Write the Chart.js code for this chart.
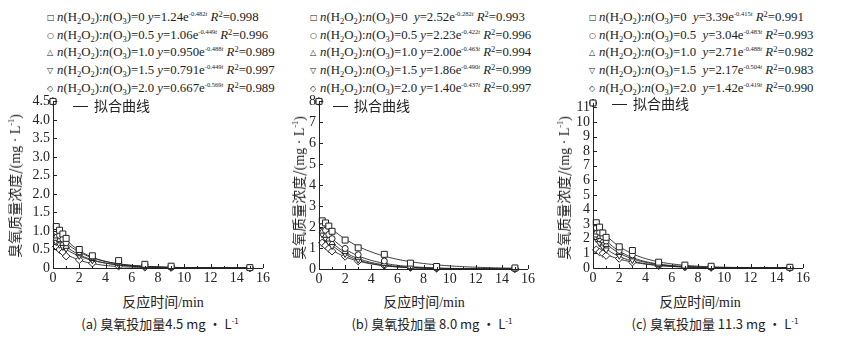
<!DOCTYPE html>
<html>
<head>
<meta charset="utf-8">
<script src="https://cdn.jsdelivr.net/npm/chart.js@4.4.1/dist/chart.umd.min.js"></script>
<style>
  body { margin: 0; width: 842px; height: 344px; background: #fff; position: relative; overflow: hidden; color: #222; }
  .box { position: absolute; }
  .legend { position: absolute; font-family: "Liberation Serif", "Times New Roman", serif; font-size: 12.8px; line-height: 16.7px; white-space: nowrap; }
  .legend .mk { display: inline-block; width: 10px; font-family: "DejaVu Sans", sans-serif; font-size: 8px; vertical-align: 1px; }
  .legend sub { font-size: 8.5px; vertical-align: -3px; line-height: 0; }
  .legend sup { font-size: 6.5px; vertical-align: 5px; line-height: 0; }
  .legend sup.r { font-size: 8.5px; vertical-align: 4px; }
  .fitkey { position: absolute; font-family: "Noto Sans CJK SC", sans-serif; font-size: 14px; line-height: 16px; white-space: nowrap; }
  .fitkey .ln { display: inline-block; width: 15px; height: 0; border-top: 1.2px solid #222; vertical-align: 4px; margin-right: 6px; }
  .xt { position: absolute; font-family: "Noto Sans CJK SC", sans-serif; font-size: 14px; transform: translateX(-50%); white-space: nowrap; }
  .xt span { font-family: "Liberation Serif", serif; }
  .yt { position: absolute; font-family: "Noto Sans CJK SC", sans-serif; font-size: 14px; white-space: nowrap; transform: translate(-50%, -50%) rotate(-90deg); }
  .yt span { font-family: "Liberation Serif", serif; }
  .yt sup, .cap sup { font-size: 8px; }
  .cap { position: absolute; font-family: "Noto Sans CJK SC", sans-serif; font-size: 13px; transform: translateX(-50%); white-space: nowrap; }
</style>
</head>
<body>
<div class="legend" id="legA" style="left:47px; top:9px"></div>
<div class="legend" id="legB" style="left:310px; top:9px"></div>
<div class="legend" id="legC" style="left:589px; top:9px"></div>

<div class="box" style="left:0px; top:90px; width:280px; height:200px"><canvas id="chartA"></canvas></div>
<div class="box" style="left:290px; top:90px; width:260px; height:200px"><canvas id="chartB"></canvas></div>
<div class="box" style="left:570px; top:90px; width:272px; height:200px"><canvas id="chartC"></canvas></div>

<div class="fitkey" style="left:73px; top:97px"><span class="ln"></span>拟合曲线</div>
<div class="fitkey" style="left:333px; top:97px"><span class="ln"></span>拟合曲线</div>
<div class="fitkey" style="left:612px; top:95px"><span class="ln"></span>拟合曲线</div>

<div class="yt" style="left:14px; top:186px">臭氧质量浓度/<span>(mg · L<sup>-1</sup>)</span></div>
<div class="yt" style="left:298px; top:188px">臭氧质量浓度/<span>(mg · L<sup>-1</sup>)</span></div>
<div class="yt" style="left:563px; top:188px">臭氧质量浓度/<span>(mg · L<sup>-1</sup>)</span></div>

<div class="xt" style="left:163px; top:291px">反应时间<span>/min</span></div>
<div class="xt" style="left:424px; top:291px">反应时间<span>/min</span></div>
<div class="xt" style="left:700px; top:291px">反应时间<span>/min</span></div>

<div class="cap" style="left:160px; top:314px">(a) 臭氧投加量4.5 mg · L<sup>-1</sup></div>
<div class="cap" style="left:432px; top:314px">(b) 臭氧投加量 8.0 mg · L<sup>-1</sup></div>
<div class="cap" style="left:715px; top:314px">(c) 臭氧投加量 11.3 mg · L<sup>-1</sup></div>

<script>
// sampling times (min)
const TIMES = [0, 0.25, 0.5, 0.75, 1, 2, 3, 5, 7, 9, 15];
// n(H2O2):n(O3) ratios
const RATIOS = ["0", "0.5", "1.0", "1.5", "2.0"];
const MARKS = ["□", "○", "△", "▽", "◇"];

// (a) ozone dose 4.5 mg/L
const A_R0 = [4.5, 1.12, 1.02, 0.92, 0.80, 0.50, 0.33, 0.20, 0.10, 0.05, 0.01];
const A_R05 = [4.5, 0.98, 0.88, 0.78, 0.68, 0.44, 0.30, 0.17, 0.08, 0.04, 0.01];
const A_R10 = [4.5, 0.86, 0.76, 0.66, 0.58, 0.38, 0.25, 0.12, 0.06, 0.03, 0.01];
const A_R15 = [4.5, 0.70, 0.63, 0.57, 0.52, 0.33, 0.21, 0.10, 0.05, 0.02, 0.0];
const A_R20 = [4.5, 0.58, 0.50, 0.43, 0.32, 0.22, 0.13, 0.05, 0.02, 0.01, 0.0];
const A_COEF = ["1.24", "1.06", "0.950", "0.791", "0.667"];
const A_RATE = ["0.482", "0.449", "0.488", "0.449", "0.569"];
const A_R2 = ["0.998", "0.996", "0.989", "0.997", "0.989"];

// (b) ozone dose 8.0 mg/L
const B_R0 = [8, 2.30, 2.20, 2.05, 1.80, 1.38, 1.01, 0.70, 0.28, 0.12, 0.05];
const B_R05 = [8, 2.05, 1.85, 1.65, 1.45, 0.98, 0.68, 0.38, 0.14, 0.07, 0.02];
const B_R10 = [8, 1.80, 1.60, 1.42, 1.25, 0.82, 0.55, 0.25, 0.10, 0.05, 0.01];
const B_R15 = [8, 1.65, 1.45, 1.28, 1.10, 0.72, 0.45, 0.20, 0.08, 0.04, 0.01];
const B_R20 = [8, 1.25, 1.12, 0.98, 0.85, 0.60, 0.38, 0.17, 0.07, 0.03, 0.01];
const B_COEF = ["2.52", "2.23", "2.00", "1.86", "1.40"];
const B_RATE = ["0.282", "0.422", "0.463", "0.490", "0.437"];
const B_R2 = ["0.993", "0.996", "0.994", "0.999", "0.997"];

// (c) ozone dose 11.3 mg/L
const C_R0 = [11.3, 3.10, 2.80, 2.40, 2.10, 1.45, 1.20, 0.40, 0.20, 0.12, 0.05];
const C_R05 = [11.3, 2.75, 2.45, 2.15, 1.85, 1.20, 0.90, 0.30, 0.12, 0.08, 0.02];
const C_R10 = [11.3, 2.45, 2.15, 1.85, 1.60, 1.05, 0.75, 0.25, 0.10, 0.06, 0.02];
const C_R15 = [11.3, 2.00, 1.70, 1.45, 1.25, 0.85, 0.55, 0.20, 0.08, 0.04, 0.01];
const C_R20 = [11.3, 1.25, 1.10, 1.00, 0.85, 0.65, 0.40, 0.15, 0.07, 0.03, 0.01];
const C_COEF = ["3.39", "3.04", "2.71", "2.17", "1.42"];
const C_RATE = ["0.415", "0.483", "0.488", "0.504", "0.419"];
const C_R2 = ["0.991", "0.993", "0.982", "0.983", "0.990"];

const X_TICKS = [0, 2, 4, 6, 8, 10, 12, 14, 16];

const INK = "#222";
const SERIF = '"Liberation Serif", "Times New Roman", serif';

Chart.defaults.font.family = SERIF;
Chart.defaults.font.size = 14;
Chart.defaults.color = INK;

// legend rows above each panel
function fillLegend(id, coef, rate, r2, gap) {
  let html = "";
  for (let i = 0; i < RATIOS.length; i++) {
    html +=
      `<div><span class="mk">${MARKS[i]}</span><i>n</i>(H<sub>2</sub>O<sub>2</sub>):<i>n</i>(O<sub>3</sub>)=${RATIOS[i]}` +
      `${gap[i]}<i>y</i>=${coef[i]}e<sup>-${rate[i]}<i>t</i></sup> <i>R</i><sup class="r">2</sup>=${r2[i]}</div>`;
  }
  document.getElementById(id).innerHTML = html;
}
fillLegend("legA", A_COEF, A_RATE, A_R2, [" ", " ", " ", " ", " "]);
fillLegend("legB", B_COEF, B_RATE, B_R2, ["&nbsp; ", " ", " ", " ", " "]);
fillLegend("legC", C_COEF, C_RATE, C_R2, ["&nbsp; ", "&nbsp; ", "&nbsp; ", "&nbsp; ", "&nbsp; "]);

// axis lines and inward tick marks
const inwardAxes = {
  id: "inwardAxes",
  afterDatasetsDraw(chart) {
    const { ctx, chartArea: a, scales } = chart;
    const x = scales.x, y = scales.y;
    ctx.save();
    ctx.strokeStyle = INK;
    ctx.lineWidth = 1;
    ctx.beginPath();
    ctx.moveTo(a.left + 0.5, a.top);
    ctx.lineTo(a.left + 0.5, a.bottom + 0.5);
    ctx.lineTo(a.right, a.bottom + 0.5);
    for (let v = 0; v <= 16; v++) {
      const px = Math.round(x.getPixelForValue(v)) + 0.5;
      const len = v % 2 === 0 ? 4 : 2;
      ctx.moveTo(px, a.bottom);
      ctx.lineTo(px, a.bottom - len);
    }
    y.ticks.forEach((t) => {
      const py = Math.round(y.getPixelForValue(t.value)) + 0.5;
      ctx.moveTo(a.left, py);
      ctx.lineTo(a.left + 4, py);
    });
    ctx.stroke();
    ctx.restore();
  },
};

function makePanel(canvasId, series, coef, rate, yMax, yStep, fmt, pad, yWidth, xHeight) {
  const styles = [
    { pointStyle: "rect", radius: 4.2, rotation: 0 },
    { pointStyle: "circle", radius: 3, rotation: 0 },
    { pointStyle: "triangle", radius: 3.6, rotation: 0 },
    { pointStyle: "triangle", radius: 3.6, rotation: 180 },
    { pointStyle: "rectRot", radius: 3.8, rotation: 0 },
  ];
  const datasets = [];
  // fitted curves y = a·e^(-b·t)
  const curveT = [];
  for (let t = 0.25; t <= 15.0001; t += 0.125) curveT.push(t);
  series.forEach((vals, i) => {
    const a = Number(coef[i]), b = Number(rate[i]);
    datasets.push({
      type: "line",
      data: curveT.map((t) => ({ x: t, y: a * Math.exp(-b * t) })),
      borderColor: INK,
      borderWidth: 0.9,
      pointRadius: 0,
      tension: 0,
      order: 2,
    });
  });
  series.forEach((vals, i) => {
    datasets.push({
      type: "scatter",
      data: vals.map((v, k) => ({ x: TIMES[k], y: v })),
      pointStyle: styles[i].pointStyle,
      pointRadius: styles[i].radius,
      rotation: styles[i].rotation,
      pointBackgroundColor: "#fff",
      pointBorderColor: INK,
      pointBorderWidth: 1,
      order: 1,
    });
  });

  return new Chart(document.getElementById(canvasId), {
    type: "scatter",
    data: { datasets },
    options: {
      responsive: true,
      maintainAspectRatio: false,
      animation: false,
      clip: false,
      layout: { padding: pad },
      plugins: { legend: { display: false }, tooltip: { enabled: false } },
      scales: {
        x: {
          type: "linear",
          min: 0,
          max: 16,
          grid: { display: false, drawTicks: false },
          border: { display: false },
          afterBuildTicks: (s) => { s.ticks = X_TICKS.map((v) => ({ value: v })); },
          afterFit: (s) => { s.height = xHeight; },
          ticks: { padding: 2, maxRotation: 0, autoSkip: false },
        },
        y: {
          type: "linear",
          min: 0,
          max: yMax,
          grid: { display: false, drawTicks: false },
          border: { display: false },
          afterBuildTicks: (s) => {
            const out = [];
            for (let v = 0; v <= yMax + 1e-9; v += yStep) out.push({ value: Math.round(v * 10) / 10 });
            s.ticks = out;
          },
          afterFit: (s) => { s.width = yWidth; },
          ticks: { padding: 3, autoSkip: false, callback: fmt },
        },
      },
    },
    plugins: [inwardAxes],
  });
}

makePanel("chartA", [A_R0, A_R05, A_R10, A_R15, A_R20], A_COEF, A_RATE, 4.5, 0.5,
  (v) => (v === 0 ? "0" : v.toFixed(1)), { top: 11, right: 17, left: 0, bottom: 0 }, 53, 22);
makePanel("chartB", [B_R0, B_R05, B_R10, B_R15, B_R20], B_COEF, B_RATE, 8, 1,
  (v) => String(v), { top: 11, right: 22, left: 0, bottom: 0 }, 29, 21);
makePanel("chartC", [C_R0, C_R05, C_R10, C_R15, C_R20], C_COEF, C_RATE, 11.3, 1,
  (v) => String(v), { top: 13, right: 39, left: 0, bottom: 0 }, 23, 22);
</script>
</body>
</html>
